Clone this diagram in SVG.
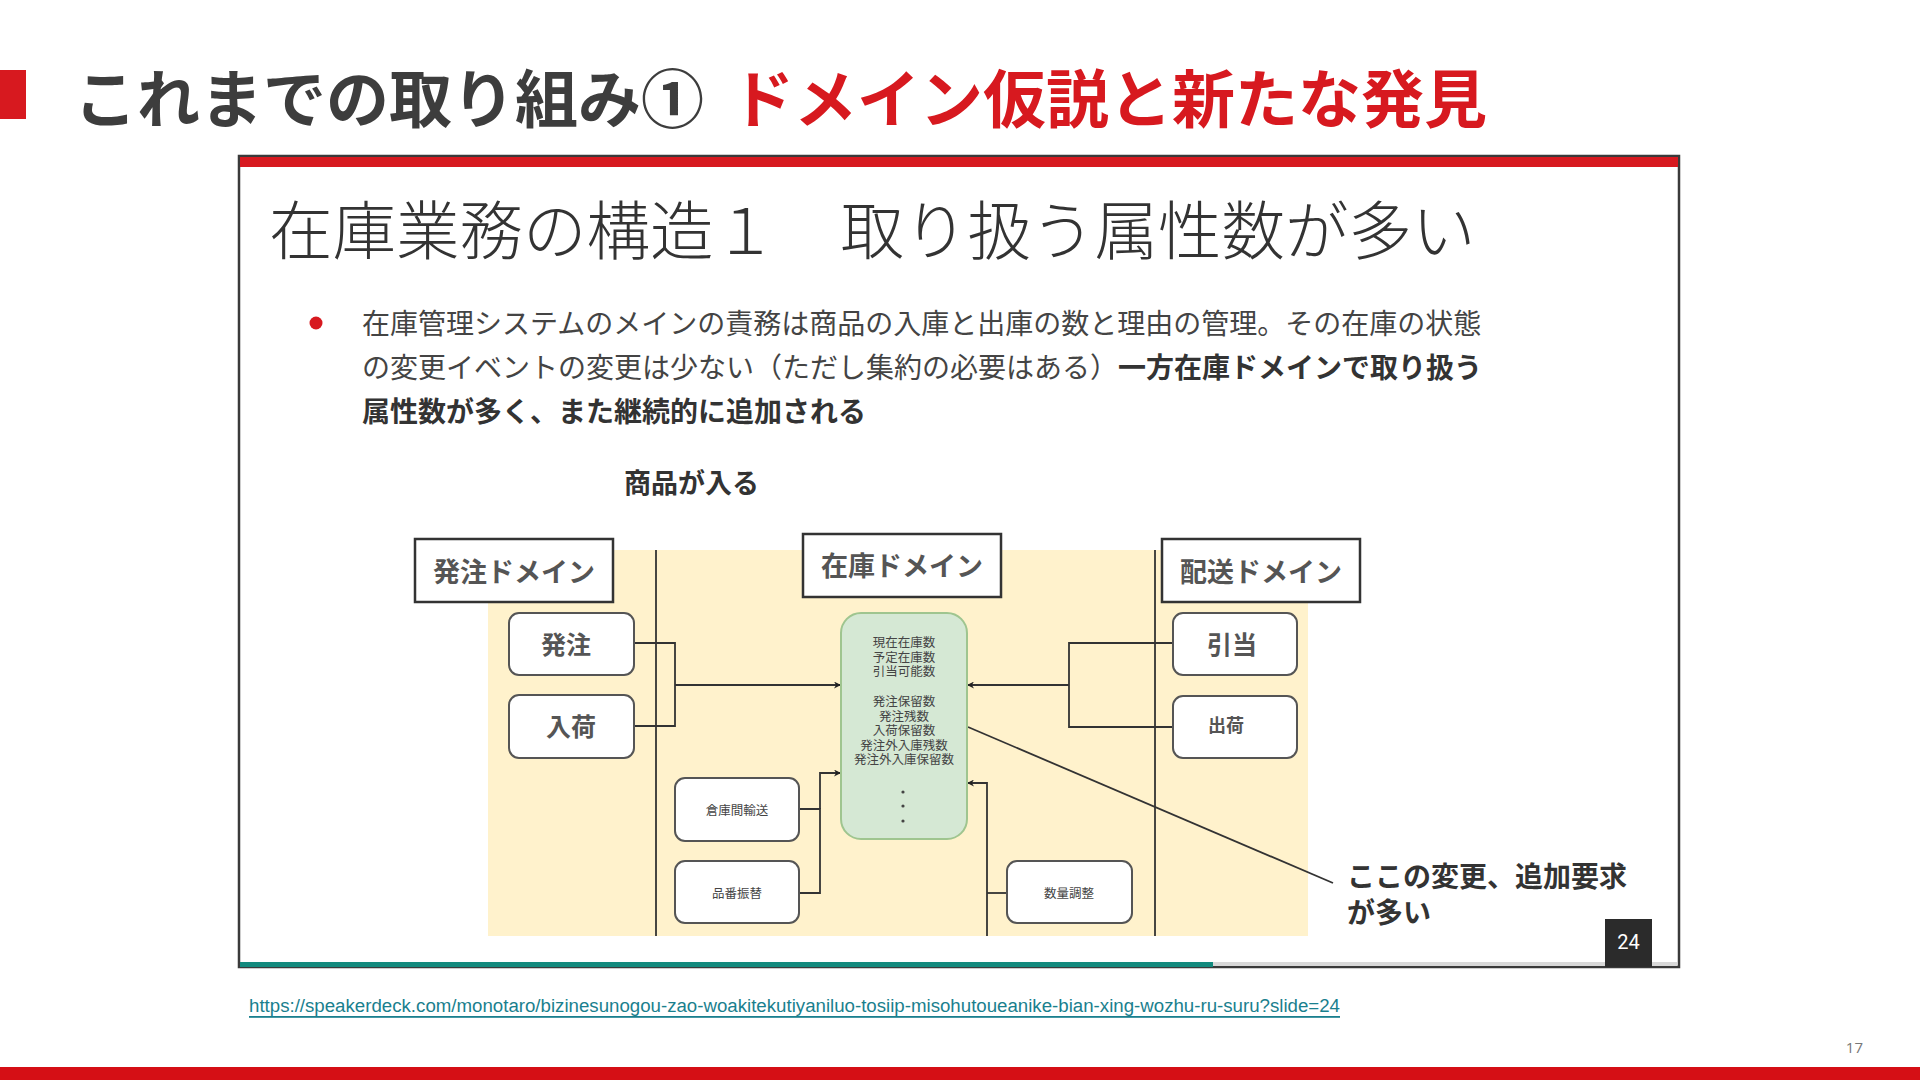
<svg xmlns="http://www.w3.org/2000/svg" width="1920" height="1080" viewBox="0 0 1920 1080">
<defs>
<style>
.jp{font-family:"Noto Sans CJK JP","Noto Sans",sans-serif;}
.c{dominant-baseline:central;}
.mid{text-anchor:middle;}
.lbl{fill:#555;font-weight:bold;}
.dom{fill:#fff;stroke:#333;stroke-width:2.5;}
.box{fill:#fff;stroke:#555;stroke-width:2;}
.ln{fill:none;stroke:#333;stroke-width:1.8;}
.arr{fill:none;stroke:#333;stroke-width:1.8;marker-end:url(#ah);}
.gt{fill:#444;font-size:12.5px;}
</style>
<marker id="ah" viewBox="0 0 10 10" refX="10" refY="5" markerWidth="7" markerHeight="7" markerUnits="userSpaceOnUse" orient="auto">
<path d="M0,0 L10,5 L0,10 L3,5 z" fill="#222"/>
</marker>
</defs>
<rect width="1920" height="1080" fill="#fff"/>

<!-- header -->
<g id="header">
<rect x="0" y="70" width="26" height="49" fill="#d7191f"/>
<text class="jp c" x="74" y="94" font-size="63" font-weight="bold" fill="#3d3d3d">これまでの取り組み①<tspan x="731" fill="#d7191f">ドメイン仮説と新たな発見</tspan></text>
</g>

<!-- slide frame -->
<g id="frame">
<rect x="239" y="156" width="1440" height="811" fill="#fff" stroke="#3a3a3a" stroke-width="2.5"/>
<rect x="240" y="157" width="1438" height="10" fill="#d7191f"/>
<rect x="240" y="962" width="973" height="5" fill="#138a7e"/>
<rect x="1213" y="962" width="464" height="4" fill="#d8d8d8"/>
<rect x="1605" y="919" width="47" height="48" fill="#2b2b2b"/>
<text x="1628.5" y="942" class="c mid" font-family="'Liberation Sans Narrow','Roboto',sans-serif" font-size="20" fill="#fff">24</text>
</g>

<g id="slide-title">
<text class="jp c" x="269" y="226" font-size="63.5" font-weight="300" fill="#333">在庫業務の構造１　取り扱う属性数が多い</text>
</g>

<g id="bullet">
<circle cx="316" cy="323" r="6.5" fill="#d7191f"/>
<text class="jp c" x="362" y="322" font-size="28" fill="#444">在庫管理システムのメインの責務は商品の入庫と出庫の数と理由の管理。その在庫の状態</text>
<text class="jp c" x="362" y="366" font-size="28" fill="#444">の変更イベントの変更は少ない（ただし集約の必要はある）<tspan font-weight="bold" fill="#333">一方在庫ドメインで取り扱う</tspan></text>
<text class="jp c" x="362" y="410" font-size="28" font-weight="bold" fill="#333">属性数が多く、また継続的に追加される</text>
</g>

<g id="caption-goods">
<text class="jp c" x="624" y="481" font-size="27" font-weight="bold" fill="#333">商品が入る</text>
</g>

<!-- diagram background -->
<g id="diagram-bg">
<rect x="488" y="550" width="820" height="386" fill="#fff2cc"/>
</g>

<!-- connectors -->
<g id="connectors">
<line class="ln" x1="656" y1="550" x2="656" y2="936"/>
<line class="ln" x1="1155" y1="550" x2="1155" y2="936"/>
<polyline class="ln" points="634,643 675,643 675,726 634,726"/>
<line class="arr" x1="675" y1="685" x2="841" y2="685"/>
<polyline class="ln" points="1173,643 1069,643 1069,727 1173,727"/>
<line class="arr" x1="1069" y1="685" x2="967" y2="685"/>
<polyline class="ln" points="799,893 820,893 820,809 799,809"/>
<polyline class="arr" points="820,809 820,773 841,773"/>
<line class="ln" x1="1007" y1="893" x2="987" y2="893"/>
<polyline class="arr" points="987,936 987,783 967,783"/>
<line class="ln" x1="968" y1="727" x2="1333" y2="883"/>
</g>

<!-- domain labels -->
<g id="domain-order">
<rect class="dom" x="415" y="539" width="198" height="63"/>
<text class="jp c mid lbl" x="514" y="570" font-size="27">発注ドメイン</text>
</g>
<g id="domain-stock">
<rect class="dom" x="803" y="534" width="198" height="63"/>
<text class="jp c mid lbl" x="902" y="564" font-size="27">在庫ドメイン</text>
</g>
<g id="domain-ship">
<rect class="dom" x="1162" y="539" width="198" height="63"/>
<text class="jp c mid lbl" x="1261" y="570" font-size="27">配送ドメイン</text>
</g>

<!-- nodes -->
<g id="node-hacchu">
<rect class="box" x="509" y="613" width="125" height="62" rx="10"/>
<text class="jp c mid lbl" x="566" y="643" font-size="25">発注</text>
</g>
<g id="node-nyuka">
<rect class="box" x="509" y="695" width="125" height="63" rx="10"/>
<text class="jp c mid lbl" x="571" y="725" font-size="25">入荷</text>
</g>
<g id="node-soko">
<rect class="box" x="675" y="778" width="124" height="63" rx="10"/>
<text class="jp c mid" x="737" y="809" font-size="12.5" fill="#444">倉庫間輸送</text>
</g>
<g id="node-hinban">
<rect class="box" x="675" y="861" width="124" height="62" rx="10"/>
<text class="jp c mid" x="737" y="892" font-size="12.5" fill="#444">品番振替</text>
</g>
<g id="node-stock">
<rect x="841" y="613" width="126" height="226" rx="20" fill="#d5e8d4" stroke="#9fc58f" stroke-width="2"/>
<text class="jp mid gt" x="904" y="647"><tspan x="904" y="647">現在在庫数</tspan><tspan x="904" dy="14.5">予定在庫数</tspan><tspan x="904" dy="14.5">引当可能数</tspan><tspan x="904" dy="30">発注保留数</tspan><tspan x="904" dy="14.5">発注残数</tspan><tspan x="904" dy="14.5">入荷保留数</tspan><tspan x="904" dy="14.5">発注外入庫残数</tspan><tspan x="904" dy="14.5">発注外入庫保留数</tspan></text>
<circle cx="903" cy="792" r="1.6" fill="#444"/>
<circle cx="903" cy="806" r="1.6" fill="#444"/>
<circle cx="903" cy="821" r="1.6" fill="#444"/>
</g>
<g id="node-hikiate">
<rect class="box" x="1173" y="613" width="124" height="62" rx="10"/>
<text class="jp c mid lbl" x="1232" y="643" font-size="25">引当</text>
</g>
<g id="node-shukka">
<rect class="box" x="1173" y="696" width="124" height="62" rx="10"/>
<text class="jp c mid lbl" x="1226" y="724" font-size="18">出荷</text>
</g>
<g id="node-suryo">
<rect class="box" x="1007" y="861" width="125" height="62" rx="10"/>
<text class="jp c mid" x="1069" y="892" font-size="12.5" fill="#444">数量調整</text>
</g>

<g id="note">
<text class="jp c" x="1347" y="875" font-size="28" font-weight="bold" fill="#333">ここの変更、追加要求</text>
<text class="jp c" x="1347" y="911" font-size="28" font-weight="bold" fill="#333">が多い</text>
</g>

<!-- footer -->
<g id="footer">
<text x="249" y="1006" class="c" font-family="'Liberation Sans Narrow','Liberation Sans',sans-serif" font-size="18" fill="#1a7f8e" text-decoration="underline" textLength="1091" lengthAdjust="spacingAndGlyphs">https://speakerdeck.com/monotaro/bizinesunogou-zao-woakitekutiyaniluo-tosiip-misohutoueanike-bian-xing-wozhu-ru-suru?slide=24</text>
<text x="1863" y="1047" class="c" text-anchor="end" font-family="'Open Sans','Liberation Sans',sans-serif" font-size="15" fill="#777">17</text>
<rect x="0" y="1067" width="1920" height="13" fill="#d50f15"/>
</g>
</svg>
